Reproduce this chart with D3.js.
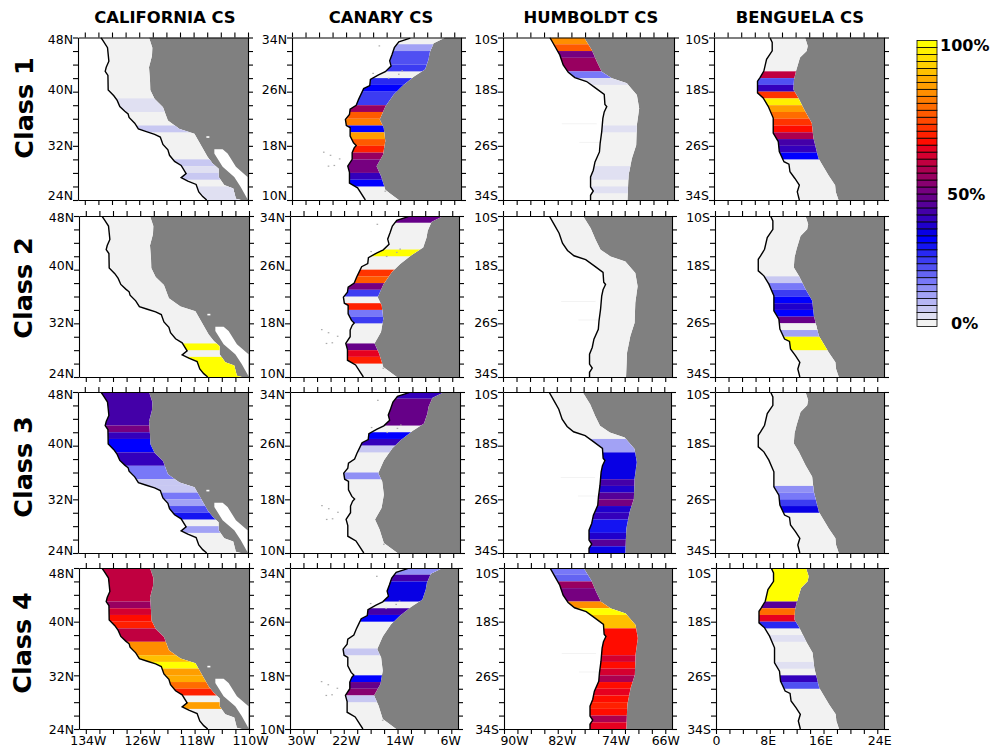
<!DOCTYPE html>
<html><head><meta charset="utf-8">
<style>
html,body{margin:0;padding:0;background:#fff}
svg{display:block}
text{font-family:"DejaVu Sans",sans-serif;fill:#000}
</style>
<script src="https://cdn.jsdelivr.net/npm/d3@7/dist/d3.min.js"></script>
</head><body><div id="chart"></div>
<script>
// Titles and labels
const regionTitles = ["CALIFORNIA CS","CANARY CS","HUMBOLDT CS","BENGUELA CS"];
const classLabels = ["Class 1","Class 2","Class 3","Class 4"];
const colorbarTicks = [100,50,0];

// Colour classes, 0 % to 100 %, 2.5 % apart
const classColors = ["#f2f2f2","#e0e0f2","#c8c8f2","#b6b6f4","#a2a2f5","#9090f5","#7878f8","#6464f2","#5050f2","#3c3cf2","#2828f2","#1414f2","#0000ff","#0800e4","#2000cc","#3400bc","#4400a8","#560098","#660088","#760080","#880070","#980060","#ac0050","#c00040","#d40030","#e60020","#ff0c00","#ff2000","#ff3400","#ff4800","#ff5a00","#ff6c00","#ff7c00","#ff8e00","#ff9e00","#ffac00","#ffc000","#ffd000","#ffe000","#fff000","#ffff00"];

// Coastlines [lon, lat]
const coastCalifornia = [[-131.63,48],[-131.3,47.5],[-130.66,46.5],[-130.56,45.5],[-130.46,44.5],[-130.85,43.6],[-131,43],[-130.6,42.4],[-130.56,40.25],[-129.73,39.4],[-129.24,38.7],[-128.85,37.8],[-128.12,37.1],[-127.63,36.7],[-127.49,36.2],[-126.66,35.35],[-126.12,34.5],[-124.95,34.1],[-123.73,33.7],[-122.9,33.3],[-122.51,32.2],[-121.78,31.4],[-121.54,30.6],[-120.8,29.7],[-119.83,29.1],[-119.1,27.9],[-119.83,27.3],[-118.85,26.8],[-117.63,26.3],[-117.24,25.2],[-116.66,24.5],[-116.07,24]];
const landCalifornia = [[-124.56,48],[-124.07,46.5],[-124.12,45.3],[-124.56,43.6],[-124.41,41.6],[-124.37,40.25],[-123.73,38.9],[-122.51,37.7],[-121.78,35.75],[-120.07,34.5],[-117.88,33.8],[-115.93,30.35],[-115.2,29.4],[-114.32,28.6],[-114.32,27.4],[-113.49,26.2],[-112.17,25.7],[-111.78,24.2],[-111.05,24]];
const gulfCalifornia = [[-114.95,31.5],[-113.73,31.5],[-113,30.85],[-111.78,28.9],[-110.07,27.4],[-110.07,24.1],[-110.56,25],[-111.05,25.9],[-112.02,27.4],[-113.73,28.9],[-114.95,30.85]];
const specksCalifornia = [[-115.9,33.3]];

const coastCanary = [[-12.5,33.9],[-14.2,33.36],[-14.86,32.5],[-15.2,31.5],[-15.55,30.55],[-15.35,29.8],[-16.2,28.96],[-17.2,28.47],[-18.4,27.8],[-18.5,26.9],[-19.4,26.45],[-19.8,25.6],[-20.15,24.86],[-20.5,24],[-21.4,23.4],[-21.5,22.65],[-22.1,21.9],[-21.96,21],[-21.4,20.67],[-21.4,19.43],[-20.9,18.44],[-20.5,18.05],[-20.8,17.7],[-21.1,17],[-21.1,16],[-21.75,15],[-21.5,14.1],[-21.5,12.5],[-20.3,11.8],[-19.15,10]];
const landCanary = [[-7.3,34],[-9.05,33.16],[-9.63,31.8],[-9.8,30.8],[-10.3,29.3],[-12,28.2],[-13.7,26.84],[-14.96,25.6],[-16.2,23.8],[-17.03,21.9],[-16.44,20.67],[-16.2,18.7],[-16.54,16.7],[-17.5,15],[-16.83,13.5],[-16.2,11.5],[-15.55,11],[-14.2,10]];
const islandsCanary = [[-17.08,32.76],[-18,28.7],[-15.7,27.97],[-14.2,28.57],[-13.7,29.06],[-25.3,17.06],[-24.3,16.6],[-22.95,16.07],[-24.6,15],[-23.74,15.1],[-16.2,11.3]];

const coastHumboldt = [[-83.15,-10],[-82.4,-11.33],[-81.7,-12.57],[-81.2,-14.05],[-80.46,-15.14],[-79.5,-15.93],[-77.77,-16.5],[-76.55,-17.4],[-75.2,-18.4],[-75.1,-19.88],[-74.83,-20.2],[-75.2,-21],[-75.4,-21.95],[-75.57,-23.93],[-75.8,-25.65],[-75.9,-26.9],[-76.55,-28.37],[-76.8,-29.6],[-77.2,-30.6],[-77.2,-32.07],[-76.8,-32.67],[-77.2,-33.3],[-77.2,-34]];
const landHumboldt = [[-78.16,-10],[-77.03,-11.83],[-76.3,-13.55],[-75.57,-15.04],[-74.1,-16.02],[-71.9,-16.77],[-70.43,-18.5],[-70.09,-20.47],[-70.43,-22.94],[-70.53,-25.9],[-71.16,-27.88],[-71.65,-30.35],[-71.8,-34]];
const streaksHumboldt = [[-81.4,-76.3,-22.74],[-78.85,-75.8,-25.5]];

const coastBenguela = [[8.22,-10],[8.56,-10.74],[8.56,-11.98],[7.73,-13.22],[7.33,-14.96],[6.74,-15.95],[6.4,-16.45],[6.4,-18.18],[7.23,-18.92],[7.97,-20.16],[8.71,-21.9],[8.71,-24.13],[9.45,-25.37],[9.6,-26.86],[10.29,-28.34],[11.02,-28.7],[11.17,-29.83],[11.9,-30.82],[12.55,-31.81],[12.25,-32.8],[12.55,-34]];
const landBenguela = [[13.39,-10],[13.78,-11.24],[13.63,-11.98],[12.65,-12.97],[12.06,-14.96],[11.76,-16.2],[11.66,-17.68],[12.4,-18.92],[13.39,-20.91],[14.37,-22.64],[14.62,-24.87],[15.35,-27.85],[16.83,-30.33],[17.81,-31.81],[17.91,-32.8],[18.31,-34]];

// Coloured latitude bands [from lat, to lat, percent]
const bandsCalifornia1 = [[39,37,2.5],[35,34,5],[30,29,5],[29,28,2.5],[28,27,5],[26,24,2.5]];
const bandsCalifornia2 = [[29,28,100],[27,24,100]];
const bandsCalifornia3 = [[48,43,40],[43,42,47.5],[42,41,37.5],[41,39,30],[39,37,37.5],[37,35,15],[35,34,5],[34,33,5],[33,32,15],[32,31,10],[31,30,20],[30,29,27.5],[28,27,10]];
const bandsCalifornia4 = [[48,43,57.5],[43,42,52.5],[42,41,60],[41,40,65],[40,39,67.5],[39,37,57.5],[37,35,82.5],[35,34,90],[34,33,100],[33,32,85],[32,31,87.5],[31,30,77.5],[30,29,67.5],[28,27,85]];

const bandsCanary1 = [[33,32,10],[32,30,20],[30,29,22.5],[28,27,25],[27,26,30],[26,24,22.5],[24,23,52.5],[23,22,75],[22,21,80],[21,20,30],[20,19,85],[19,18,75],[18,17,67.5],[17,16,52.5],[16,14,47.5],[14,13,37.5],[13,12,30]];
const bandsCanary2 = [[34,33,45],[29,28,100],[26,25,70],[25,24,75],[24,23,47.5],[23,22,22.5],[21,20,67.5],[20,19,15],[19,18,22.5],[15,14,45],[14,13,62.5],[13,12,67.5]];
const bandsCanary3 = [[34,33,37.5],[33,29,45],[28,27,30],[27,26,37.5],[26,25,5],[22,21,12.5]];
const bandsCanary4 = [[34,33,12.5],[33,32,40],[32,29,32.5],[28,27,40],[27,26,30],[22,21,5],[18,17,30],[17,16,45],[16,15,50],[15,14,5]];

const bandsHumboldt1 = [[-10,-11,82.5],[-11,-12,75],[-12,-13,47.5],[-13,-15,52.5],[-15,-16,15],[-16,-17,2.5],[-23,-24,2.5],[-29,-31,2.5],[-32,-33,2.5]];
const bandsHumboldt2 = [];
const bandsHumboldt3 = [[-17,-19,10],[-19,-23,32.5],[-23,-24,40],[-24,-25,35],[-25,-26,42.5],[-26,-27,47.5],[-27,-28,35],[-28,-29,37.5],[-29,-31,27.5],[-31,-32,35],[-32,-33,42.5],[-33,-34,32.5]];
const bandsHumboldt4 = [[-10,-11,15],[-11,-12,17.5],[-12,-13,52.5],[-13,-15,47.5],[-15,-16,82.5],[-16,-17,100],[-17,-19,90],[-19,-23,65],[-23,-24,60],[-24,-25,65],[-25,-26,60],[-26,-27,55],[-27,-28,65],[-28,-29,62.5],[-29,-30,65],[-30,-31,67.5],[-31,-32,65],[-32,-33,55],[-33,-34,62.5]];

const bandsBenguela1 = [[-15,-16,57.5],[-16,-17,20],[-17,-18,37.5],[-18,-19,70],[-19,-20,97.5],[-20,-21,85],[-21,-22,77.5],[-22,-23,70],[-23,-24,65],[-24,-25,55],[-25,-26,40],[-26,-27,37.5],[-27,-28,30]];
const bandsBenguela2 = [[-19,-20,5],[-20,-21,15],[-21,-22,22.5],[-22,-23,30],[-23,-24,35],[-24,-25,30],[-25,-26,45],[-26,-27,0],[-27,-28,10],[-28,-30,100]];
const bandsBenguela3 = [[-24,-25,12.5],[-25,-26,15],[-26,-27,22.5],[-27,-28,32.5]];
const bandsBenguela4 = [[-10,-15,100],[-15,-16,42.5],[-16,-17,77.5],[-17,-18,62.5],[-18,-19,25],[-20,-21,2.5],[-24,-25,2.5],[-26,-27,37.5],[-27,-28,20]];

const regions = [
 {coast:coastCalifornia,land:landCalifornia,gulf:gulfCalifornia,islands:[],specks:specksCalifornia,streaks:[],lon:[-135,-110],lat:[48,24],bands:[bandsCalifornia1,bandsCalifornia2,bandsCalifornia3,bandsCalifornia4]},
 {coast:coastCanary,land:landCanary,gulf:null,islands:islandsCanary,specks:[],streaks:[],lon:[-30,-5],lat:[34,10],bands:[bandsCanary1,bandsCanary2,bandsCanary3,bandsCanary4]},
 {coast:coastHumboldt,land:landHumboldt,gulf:null,islands:[],specks:[],streaks:streaksHumboldt,lon:[-90,-65],lat:[-10,-34],bands:[bandsHumboldt1,bandsHumboldt2,bandsHumboldt3,bandsHumboldt4]},
 {coast:coastBenguela,land:landBenguela,gulf:null,islands:[],specks:[],streaks:[],lon:[0,25],lat:[-10,-34],bands:[bandsBenguela1,bandsBenguela2,bandsBenguela3,bandsBenguela4]}
];

// Layout
const W=990,H=749;
const rowTop=[37.5,216,392,568], rowBottom=[200,377,553,729];
const colLeft=[[78,79,78,79],[292,290,290,290],[503,503,503,504],[714,715,715,716]];
const colRight=[[248,249,248,249],[461,459,460,458],[674,672,671,672],[884,884,884,884]];
const yLabelShift=[[1,-3,-1,-5],[1,-5,-1,-4],[2,-3,0,-3],[5,-1,1,0]];
const xLabelShift=[[2,2,2,1],[11,2,2,-1],[10,4,4,0],[0,-2,-3,2]];
const titleX=[165,381,591,800];
const rowLabelY=[108,288,467,643], rowLabelX=[24,23,23,22];

const color=d3.scaleQuantize().domain([0,100]).range(classColors);
const svg=d3.select("#chart").append("svg").attr("width",W).attr("height",H);
svg.append("rect").attr("width",W).attr("height",H).attr("fill","#fff");
const defs=svg.append("defs");

const latFmt=v=>v>=0?`${v}N`:`${-v}S`;
const lonFmt=v=>v<0?`${-v}W`:(v===0?"0":`${v}E`);

regions.forEach((reg,c)=>{
  svg.append("text").attr("x",titleX[c]).attr("y",23).attr("text-anchor","middle")
    .attr("font-size",16.4).attr("font-weight","bold").text(regionTitles[c]);
  reg.bands.forEach((bands,r)=>{
    const x=d3.scaleLinear().domain(reg.lon).range([colLeft[c][r],colRight[c][r]]);
    const y=d3.scaleLinear().domain(reg.lat).range([rowTop[r],rowBottom[r]]);
    const line=d3.line().x(d=>x(d[0])).y(d=>y(d[1]));
    const clipP=`p${c}${r}`, clipS=`s${c}${r}`;
    defs.append("clipPath").attr("id",clipP).append("rect")
      .attr("x",x.range()[0]).attr("y",y.range()[0])
      .attr("width",x.range()[1]-x.range()[0]).attr("height",y.range()[1]-y.range()[0]);
    const shelf=reg.coast.concat(reg.land.slice().reverse());
    defs.append("clipPath").attr("id",clipS).append("path").attr("d",line(shelf)+"Z");
    const g=svg.append("g").attr("clip-path",`url(#${clipP})`);
    // land
    const landPoly=reg.land.concat([[reg.lon[1],reg.lat[1]],[reg.lon[1],reg.lat[0]]]);
    g.append("path").attr("d",line(landPoly)+"Z").attr("fill","#808080");
    if(reg.gulf) g.append("path").attr("d",line(reg.gulf)+"Z").attr("fill","#fff");
    g.selectAll("rect.spk").data(reg.specks).join("rect").attr("class","spk")
      .attr("x",d=>x(d[0])-1.5).attr("y",d=>y(d[1])-.8).attr("width",3).attr("height",1.6).attr("fill","#fff");
    // shelf
    g.append("path").attr("d",line(shelf)+"Z").attr("fill",classColors[0]);
    // faint streaks
    g.selectAll("line.str").data(reg.streaks).join("line").attr("class","str")
      .attr("x1",d=>x(d[0])).attr("x2",d=>x(d[1])).attr("y1",d=>y(d[2])).attr("y2",d=>y(d[2]))
      .attr("stroke",classColors[0]).attr("stroke-width",.9);
    // bands
    g.append("g").attr("clip-path",`url(#${clipS})`).selectAll("rect").data(bands).join("rect")
      .attr("x",x.range()[0]).attr("width",x.range()[1]-x.range()[0])
      .attr("y",d=>y(d[0])).attr("height",d=>y(d[1])-y(d[0]))
      .attr("fill",d=>color(d[2]));
    // islands
    g.selectAll("rect.isl").data(reg.islands).join("rect").attr("class","isl")
      .attr("x",d=>x(d[0])-.8).attr("y",d=>y(d[1])-.6).attr("width",1.6).attr("height",1.2).attr("fill","#aaa");
    // coast
    g.append("path").attr("d",line(reg.coast)).attr("fill","none").attr("stroke","#000").attr("stroke-width",1.4);

    // axes
    const lonAll=d3.range(Math.ceil(reg.lon[0]/2)*2,reg.lon[1]+.1,2);
    const latAll=d3.range(reg.lat[1],reg.lat[0]+.1,2);
    const latMajor=latAll.filter(v=>((v-reg.lat[0])%8)===0);
    const mk=(axis,tr,tv,fmt,pad)=>{
      const a=svg.append("g").attr("transform",tr).call(axis.tickValues(tv).tickSize(5).tickSizeOuter(0).tickPadding(pad).tickFormat(fmt));
      a.selectAll("path.domain,line").attr("stroke","#000").attr("stroke-width",1.1);
      a.selectAll("text").attr("font-size",12.5).attr("font-family","DejaVu Sans");
      return a;
    };
    mk(d3.axisTop(x),`translate(0,${y.range()[0]})`,lonAll,()=>"",4);
    mk(d3.axisRight(y),`translate(${x.range()[1]},0)`,latAll,()=>"",4);
    const left=mk(d3.axisLeft(y),`translate(${x.range()[0]},0)`,latAll,v=>latMajor.includes(v)?latFmt(v):"",0);
    left.selectAll("text").filter(v=>latMajor.includes(v))
      .attr("dy",function(v){return (yLabelShift[r][latMajor.slice().sort((a,b)=>b-a).indexOf(v)]+4.5)+"px";});
    const xMajor=(c===3)?[0,8,16,24]:(c===0?[-134,-126,-118,-110]:(c===1?[-30,-22,-14,-6]:[-90,-82,-74,-66]));
    const bottom=mk(d3.axisBottom(x),`translate(0,${y.range()[1]})`,lonAll,v=>(r===3&&xMajor.includes(v))?lonFmt(v):"",2.5);
    bottom.selectAll("text").attr("dx",v=>xMajor.includes(v)?xLabelShift[c][xMajor.indexOf(v)]+"px":"0");
  });
});

classLabels.forEach((t,r)=>{
  svg.append("text").attr("transform",`translate(${rowLabelX[r]+9},${rowLabelY[r]}) rotate(-90)`)
    .attr("text-anchor","middle").attr("font-size",25.5).attr("font-weight","bold").text(t);
});

// Colorbar
const cbTop=40.5,cbBottom=326.5,cbX=917,cbW=20;
const cbY=d3.scaleBand().domain(d3.range(classColors.length)).range([cbBottom,cbTop]);
svg.append("g").selectAll("rect").data(classColors).join("rect")
  .attr("x",cbX).attr("width",cbW).attr("y",(d,i)=>cbY(i)).attr("height",cbY.bandwidth())
  .attr("fill",d=>d).attr("stroke","#000").attr("stroke-width",.8);
const cbPos={100:[940,51],50:[947,200],0:[951,329]};
svg.append("g").selectAll("text").data(colorbarTicks).join("text")
  .attr("x",d=>cbPos[d][0]).attr("y",d=>cbPos[d][1])
  .attr("font-size",16).attr("font-weight","bold").text(d=>d+"%");
</script></body></html>
